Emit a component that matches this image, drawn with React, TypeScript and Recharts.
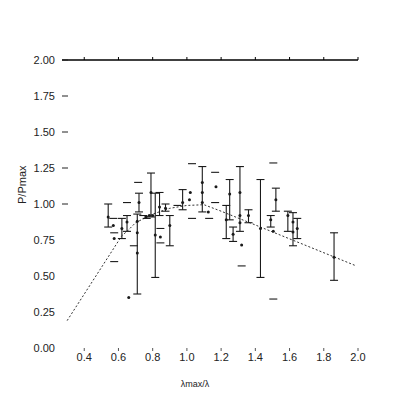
import { ComposedChart, Scatter, Line, XAxis, YAxis, ErrorBar } from 'recharts'

// points with visible error bars
const barX = [0.54, 0.62, 0.65, 0.71, 0.72, 0.79, 0.815, 0.84, 0.875, 0.9, 0.975, 1.09, 1.23, 1.25, 1.27, 1.31, 1.36, 1.43, 1.49, 1.52, 1.59, 1.62, 1.645, 1.86]
const barY = [0.91, 0.83, 0.875, 0.88, 1.01, 1.08, 0.785, 0.98, 0.97, 0.85, 1.01, 1.15, 0.89, 1.07, 0.79, 1.08, 0.92, 0.83, 0.89, 1.03, 0.92, 0.875, 0.83, 0.63]
const barLo = [0.84, 0.76, 0.81, 0.375, 0.945, 0.91, 0.49, 0.92, 0.95, 0.71, 0.96, 0.945, 0.76, 0.89, 0.74, 0.81, 0.87, 0.49, 0.84, 0.95, 0.81, 0.71, 0.76, 0.47]
const barHi = [1.0, 0.9, 0.92, 0.93, 1.075, 1.215, 1.075, 1.08, 1.0, 0.92, 1.1, 1.26, 0.99, 1.17, 0.84, 1.26, 0.96, 1.17, 0.92, 1.11, 0.95, 0.94, 0.9, 0.8]

// loose points
const ptX = [0.57, 0.575, 0.66, 0.71, 0.71, 0.78, 0.845, 1.02, 1.015, 1.09, 1.09, 1.17, 1.125, 1.31, 1.31, 1.32, 1.505, 1.62, 0.8, 0.76]
const ptY = [0.85, 0.76, 0.35, 0.8, 0.66, 0.92, 0.77, 1.08, 1.03, 1.08, 1.01, 1.12, 0.945, 0.92, 0.87, 0.715, 0.81, 0.805, 0.92, 0.91]

// stray caps (bars faded in the scan)
const capX = [0.57, 0.575, 0.575, 0.65, 0.69, 0.715, 0.845, 0.845, 0.945, 1.03, 1.03, 1.165, 1.165, 1.13, 1.32, 1.505, 1.505, 0.745, 0.765]
const capY = [0.9, 0.8, 0.6, 1.01, 0.71, 1.15, 0.83, 0.73, 0.99, 1.28, 0.9, 1.22, 1.01, 0.9, 0.57, 1.285, 0.34, 0.92, 0.9]

// model curve
const curveX = [0.3, 0.62, 0.65, 0.7, 0.8, 0.9, 1.0, 1.1, 1.2, 1.43, 1.99]
const curveY = [0.19, 0.78, 0.81, 0.87, 0.93, 0.97, 0.99, 0.995, 0.95, 0.84, 0.57]

const xTicks = [0.4, 0.6, 0.8, 1.0, 1.2, 1.4, 1.6, 1.8, 2.0]
const yTicks = [0, 0.25, 0.5, 0.75, 1.0, 1.25, 1.5, 1.75, 2.0]

const bars = barX.map((x, i) => ({ x, y: barY[i], err: [barY[i] - barLo[i], barHi[i] - barY[i]] }))
const pts = ptX.map((x, i) => ({ x, y: ptY[i] }))
const caps = capX.map((x, i) => ({ x, y: capY[i] }))
const curve = curveX.map((x, i) => ({ x, y: curveY[i] }))

const font = '"Liberation Sans", Arial, sans-serif'
const ink = '#1a1a1a'

const Dot = (p: any) => <circle cx={p.cx} cy={p.cy} r={1.5} fill={ink} />
const Cap = (p: any) => <line x1={p.cx - 4} x2={p.cx + 4} y1={p.cy} y2={p.cy} stroke={ink} strokeWidth={1.1} />

const YTick = (p: any) => (
  <g>
    <text x={p.x - 7} y={p.y} dy={4} textAnchor="end" fontSize={11} fill="#222" fontFamily={font}>
      {p.payload.value.toFixed(2)}
    </text>
    {p.payload.value >= 1 && <line x1={p.x} x2={p.x + 6} y1={p.y} y2={p.y} stroke="#222" />}
  </g>
)

export default function App() {
  return (
    <div style={{ position: 'absolute', top: 0, left: 0, background: '#fff' }}>
      <ComposedChart width={396} height={401} margin={{ top: 56, right: 38, left: 0, bottom: 0 }}>
        <XAxis
          dataKey="x"
          type="number"
          domain={[0.27, 2.0]}
          ticks={xTicks}
          allowDataOverflow
          height={53}
          axisLine={false}
          tickSize={3}
          tickLine={{ stroke: '#555' }}
          tickFormatter={(v: number) => v.toFixed(1)}
          tick={{ fill: '#222', fontSize: 11, fontFamily: font }}
          label={{ value: 'λmax/λ', position: 'insideBottom', offset: 14, dx: -15, fontSize: 9, fill: '#222', fontFamily: font }}
        />
        <XAxis
          xAxisId="top"
          orientation="top"
          dataKey="x"
          type="number"
          domain={[0.27, 2.0]}
          ticks={xTicks}
          allowDataOverflow
          height={4}
          tickSize={3}
          tickFormatter={() => ''}
          axisLine={{ stroke: '#000', strokeWidth: 1.5 }}
          tickLine={{ stroke: '#000' }}
        />
        <YAxis
          type="number"
          domain={[0, 2]}
          ticks={yTicks}
          width={62}
          axisLine={false}
          tickLine={false}
          tickSize={0}
          tickMargin={0}
          tick={<YTick />}
          label={{ value: 'P/Pmax', angle: -90, position: 'insideLeft', offset: 0, dx: 22, fontSize: 11, fill: '#222', fontFamily: font }}
        />
        <Line data={curve} dataKey="y" type="linear" stroke="#333" strokeWidth={1} strokeDasharray="2 2" dot={false} isAnimationActive={false} />
        <Scatter data={bars} dataKey="y" shape={Dot} isAnimationActive={false}>
          <ErrorBar dataKey="err" direction="y" width={4} stroke={ink} strokeWidth={1.1} />
        </Scatter>
        <Scatter data={pts} dataKey="y" shape={Dot} isAnimationActive={false} />
        <Scatter data={caps} dataKey="y" shape={Cap} isAnimationActive={false} />
      </ComposedChart>
    </div>
  )
}
